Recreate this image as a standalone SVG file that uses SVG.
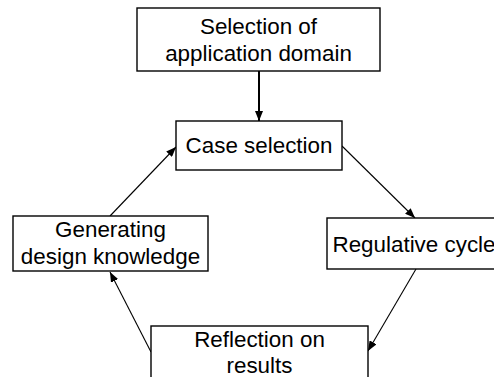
<svg xmlns="http://www.w3.org/2000/svg" width="494" height="377" viewBox="0 0 494 377">
<style>
.box{fill:#fff;stroke:#000;stroke-width:1.4}
.t{font-family:"Liberation Sans",Arial,sans-serif;font-size:22.4px;fill:#000;text-anchor:middle}
.c{fill:none;stroke:#000;stroke-width:1.1}
.thick{stroke-width:2}
</style>
<defs>
<marker id="ah" viewBox="0 0 10 8" refX="10" refY="4" markerWidth="10" markerHeight="8" markerUnits="userSpaceOnUse" orient="auto">
<path d="M0,0 L10,4 L0,8 Z" fill="#000"/>
</marker>
</defs>
<g id="connectors">
<line class="c thick" x1="259" y1="71" x2="259" y2="121" marker-end="url(#ah)"/>
<line class="c" x1="342" y1="146" x2="415" y2="218" marker-end="url(#ah)"/>
<line class="c" x1="416" y1="269" x2="368" y2="351" marker-end="url(#ah)"/>
<line class="c" x1="151" y1="352" x2="110" y2="272" marker-end="url(#ah)"/>
<line class="c" x1="110" y1="216" x2="176" y2="147" marker-end="url(#ah)"/>
</g>
<g id="domain">
<rect class="box" x="137" y="8" width="243" height="63"/>
<text class="t" x="258.5" y="34">Selection of</text>
<text class="t" x="258.5" y="61">application domain</text>
</g>
<g id="case">
<rect class="box" x="176" y="121" width="166" height="49"/>
<text class="t" x="259" y="153">Case selection</text>
</g>
<g id="regulative">
<rect class="box" x="327" y="218" width="180" height="51"/>
<text class="t" x="414" y="252">Regulative cycle</text>
</g>
<g id="reflection">
<rect class="box" x="151" y="326" width="217" height="60"/>
<text class="t" x="259.5" y="347">Reflection on</text>
<text class="t" x="259.5" y="373">results</text>
</g>
<g id="generating">
<rect class="box" x="13" y="216" width="195" height="55"/>
<text class="t" x="110.5" y="237">Generating</text>
<text class="t" x="110.5" y="264">design knowledge</text>
</g>
</svg>
